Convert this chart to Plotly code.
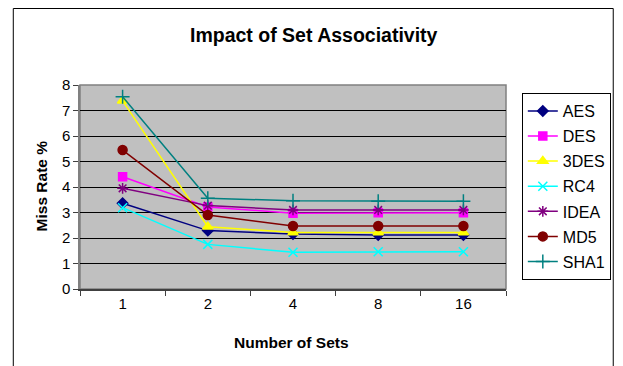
import plotly.graph_objects as go

categories = ["1", "2", "4", "8", "16"]
series_names = ["AES", "DES", "3DES", "RC4", "IDEA", "MD5", "SHA1"]
aes = [3.36, 2.29, 2.16, 2.12, 2.12]
des = [4.40, 3.22, 2.97, 2.99, 2.99]
tdes = [7.38, 2.44, 2.22, 2.22, 2.22]
rc4 = [3.19, 1.75, 1.44, 1.46, 1.46]
idea = [3.95, 3.27, 3.10, 3.10, 3.10]
md5 = [5.45, 2.90, 2.47, 2.47, 2.47]
sha1 = [7.54, 3.56, 3.46, 3.44, 3.44]
y_ticks = [0, 1, 2, 3, 4, 5, 6, 7, 8]

values = [aes, des, tdes, rc4, idea, md5, sha1]
colors = ["#000080", "#FF00FF", "#FFFF00", "#00FFFF", "#800080", "#800000", "#008080"]
symbols = ["diamond", "square", "triangle-up", "x-thin-open", "asterisk-open", "circle", "cross-thin-open"]
sizes = [8, 8, 9, 9, 9, 9, 10]

FONT = "Liberation Sans, Arial, sans-serif"

fig = go.Figure()
for name, vals, c, s, sz in zip(series_names, values, colors, symbols, sizes):
    fig.add_trace(go.Scatter(
        x=categories, y=vals, name=name, mode="lines+markers",
        legendgroup=name,
        line=dict(color=c, width=1.5),
        marker=dict(symbol=s, size=sz, color=c, line=dict(color=c, width=1.5)),
    ))

W, H = 623, 366
L, R, T, B = 80, 511, 85, 289
pw, ph = R - L, B - T

def px_x(x):
    return (x - L) / pw

def px_y(y):
    return (B - y) / ph

fig.update_layout(
    width=W, height=H,
    margin=dict(l=L, r=W - R, t=T, b=H - B, pad=0),
    paper_bgcolor="white",
    plot_bgcolor="#C0C0C0",
    font=dict(family=FONT, size=15, color="black"),
    showlegend=True,
    legend=dict(
        x=px_x(527), y=px_y(93), xanchor="left", yanchor="top",
        bordercolor="black", borderwidth=1, bgcolor="white",
        font=dict(family=FONT, size=16, color="black"),
        tracegroupgap=1.3, itemwidth=30,
        entrywidth=50, entrywidthmode="pixels",
    ),
    xaxis=dict(
        type="category", range=[-0.5, 4.5],
        showgrid=False, zeroline=False,
        ticks="outside", ticklen=5, tickwidth=1, tickcolor="#404040",
        tickson="boundaries",
        showline=True, linecolor="#404040", linewidth=2,
        tickfont=dict(family=FONT, size=15, color="black"),
    ),
    yaxis=dict(
        range=[0, 8], tickvals=y_ticks,
        showgrid=True, gridcolor="black", gridwidth=1,
        zeroline=False,
        ticks="outside", ticklen=5, tickcolor="#404040",
        showline=True, linecolor="#808080", linewidth=1.5,
        tickfont=dict(family=FONT, size=15, color="black"),
    ),
    annotations=[
        dict(text="<b>Impact of Set Associativity</b>", xref="paper", yref="paper",
             x=px_x(317), y=px_y(35), xanchor="center", yanchor="middle",
             showarrow=False, font=dict(family=FONT, size=19.5, color="black")),
        dict(text="<b>Miss Rate %</b>", xref="paper", yref="paper",
             x=px_x(41), y=px_y(186), xanchor="center", yanchor="middle",
             textangle=-90, showarrow=False,
             font=dict(family=FONT, size=15.5, color="black")),
        dict(text="<b>Number of Sets</b>", xref="paper", yref="paper",
             x=px_x(294), y=px_y(342), xanchor="center", yanchor="middle",
             showarrow=False, font=dict(family=FONT, size=15.5, color="black")),
    ],
    shapes=[
        dict(type="rect", xref="paper", yref="paper",
             x0=px_x(12.5), x1=px_x(619.5), y0=px_y(380), y1=px_y(8.5),
             line=dict(color="black", width=1), fillcolor="rgba(0,0,0,0)", layer="below"),
        dict(type="rect", xref="paper", yref="paper",
             x0=0, x1=1, y0=0, y1=1,
             line=dict(color="#808080", width=1.5), fillcolor="rgba(0,0,0,0)", layer="below"),
    ],
)

fig.write_html("out.html")
